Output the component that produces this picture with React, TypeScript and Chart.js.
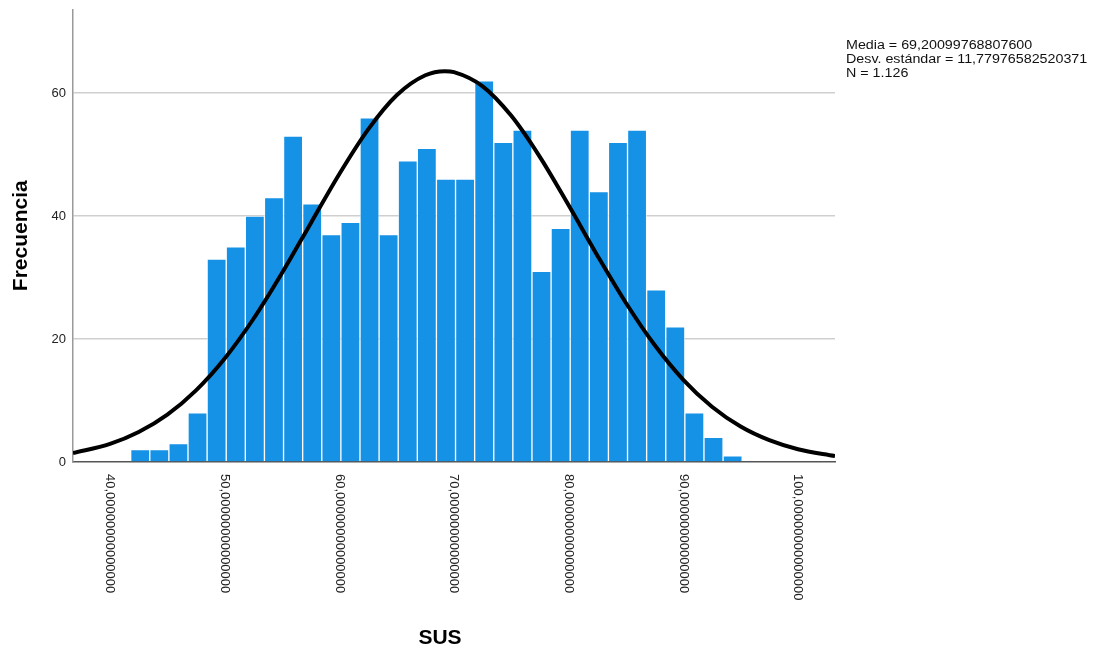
import React, { useEffect, useRef } from "react";
import { Chart, registerables } from "chart.js";

Chart.register(...registerables);

// Histogram bins
const binStart = 41.8;
const binWidth = 1.6667;
const frequencies = [
  2, 2, 3, 8, 33, 35, 40, 43, 53, 42, 37, 39, 56, 37, 49, 51,
  46, 46, 62, 52, 54, 31, 38, 54, 44, 52, 54, 28, 22, 8, 4, 1,
];

// Normal curve points
const curveX = [
  36.77, 40, 42.5, 45, 47.5, 50, 52.5, 55, 57.5, 60, 62.5, 65, 67.5, 69.2,
  70, 72.5, 75, 77.5, 80, 82.5, 85, 87.5, 90, 92.5, 95, 97.5, 100, 103.23,
];
const curveY = [
  1.44, 2.94, 4.87, 7.7, 11.65, 16.84, 23.26, 30.74, 38.81, 46.85, 54.06, 59.65, 62.9, 63.56,
  63.41, 61.11, 56.3, 49.59, 41.75, 33.6, 25.86, 19.02, 13.37, 8.99, 5.77, 3.55, 2.08, 0.98,
];

const xTickValues = [40, 50, 60, 70, 80, 90, 100];
const xTickLabels = [
  "40,00000000000000",
  "50,00000000000000",
  "60,00000000000000",
  "70,00000000000000",
  "80,00000000000000",
  "90,00000000000000",
  "100,00000000000000",
];
const yTickValues = [0, 20, 40, 60];
const statsLines = [
  "Media = 69,20099768807600",
  "Desv. estándar = 11,77976582520371",
  "N = 1.126",
];

const FONT = '"Liberation Sans", Arial, sans-serif';

export default function App() {
  const canvasRef = useRef<HTMLCanvasElement | null>(null);

  useEffect(() => {
    if (!canvasRef.current) return;
    const bars = frequencies.map((f, i) => ({ x: binStart + (i + 0.5) * binWidth, y: f }));
    const curve = curveX.map((x, i) => ({ x, y: curveY[i] }));

    const textPlugin = {
      id: "customText",
      afterDraw(chart: any) {
        const ctx = chart.ctx;
        const xs = chart.scales.x;
        ctx.save();
        ctx.fillStyle = "#222";
        ctx.font = `13px ${FONT}`;
        xTickValues.forEach((v, i) => {
          const px = xs.getPixelForValue(v);
          ctx.save();
          ctx.translate(px, 474);
          ctx.rotate(Math.PI / 2);
          ctx.textAlign = "left";
          ctx.textBaseline = "middle";
          ctx.fillText(xTickLabels[i], 0, 0);
          ctx.restore();
        });
        ctx.fillStyle = "#000";
        ctx.font = `bold 21px ${FONT}`;
        ctx.textAlign = "center";
        ctx.textBaseline = "middle";
        ctx.fillText("SUS", 440, 638);

        ctx.font = `12px ${FONT}`;
        ctx.fillStyle = "#111";
        ctx.textAlign = "left";
        ctx.textBaseline = "alphabetic";
        statsLines.forEach((line, i) => {
          ctx.save();
          ctx.translate(846, 49 + i * 14);
          ctx.scale(1.19, 1);
          ctx.fillText(line, 0, 0);
          ctx.restore();
        });
        ctx.restore();
      },
    };

    const chart = new Chart(canvasRef.current, {
      type: "bar",
      data: {
        datasets: [
          {
            type: "line",
            data: curve,
            borderColor: "#000",
            borderWidth: 4,
            pointRadius: 0,
            cubicInterpolationMode: "monotone",
            order: 0,
            clip: 0,
          } as any,
          {
            type: "bar",
            data: bars,
            backgroundColor: "#1591e6",
            borderColor: "rgba(255,255,255,0.55)",
            borderWidth: 1,
            barPercentage: 1,
            categoryPercentage: 1,
            order: 1,
          } as any,
        ],
      },
      options: {
        responsive: true,
        maintainAspectRatio: false,
        animation: false,
        layout: { padding: { left: 0, right: 260, top: 9.5, bottom: 0 } },
        plugins: { legend: { display: false }, tooltip: { enabled: false } },
        scales: {
          x: {
            type: "linear",
            min: 36.77,
            max: 103.23,
            offset: false,
            afterBuildTicks: (s: any) => {
              s.ticks = xTickValues.map((v) => ({ value: v }));
            },
            afterFit: (s: any) => {
              s.height = 189;
              s.paddingLeft = 0;
              s.paddingRight = 0;
            },
            grid: { display: false, drawTicks: false },
            border: { display: true, color: "#555", width: 1.5 },
            ticks: { display: false },
          },
          y: {
            min: 0,
            max: 73.6,
            afterBuildTicks: (s: any) => {
              s.ticks = yTickValues.map((v) => ({ value: v }));
            },
            afterFit: (s: any) => {
              s.width = 73;
              s.paddingTop = 0;
              s.paddingBottom = 0;
            },
            grid: {
              color: (c: any) => (c.tick && c.tick.value === 0 ? "rgba(0,0,0,0)" : "#cfcfcf"),
              lineWidth: 1.5,
              drawTicks: false,
            },
            border: { display: true, color: "#9a9a9a", width: 1.5 },
            ticks: { padding: 7, font: { family: FONT, size: 13 }, color: "#222" },
            title: {
              display: true,
              text: "Frecuencia",
              font: { family: FONT, size: 21, weight: "bold" },
              color: "#000",
              padding: { top: 9, bottom: 0 },
            },
          },
        },
      } as any,
      plugins: [textPlugin],
    });
    return () => chart.destroy();
  }, []);

  return (
    <div style={{ position: "fixed", left: 0, top: 0, width: 1095, height: 651, background: "#fff" }}>
      <canvas ref={canvasRef} />
    </div>
  );
}
